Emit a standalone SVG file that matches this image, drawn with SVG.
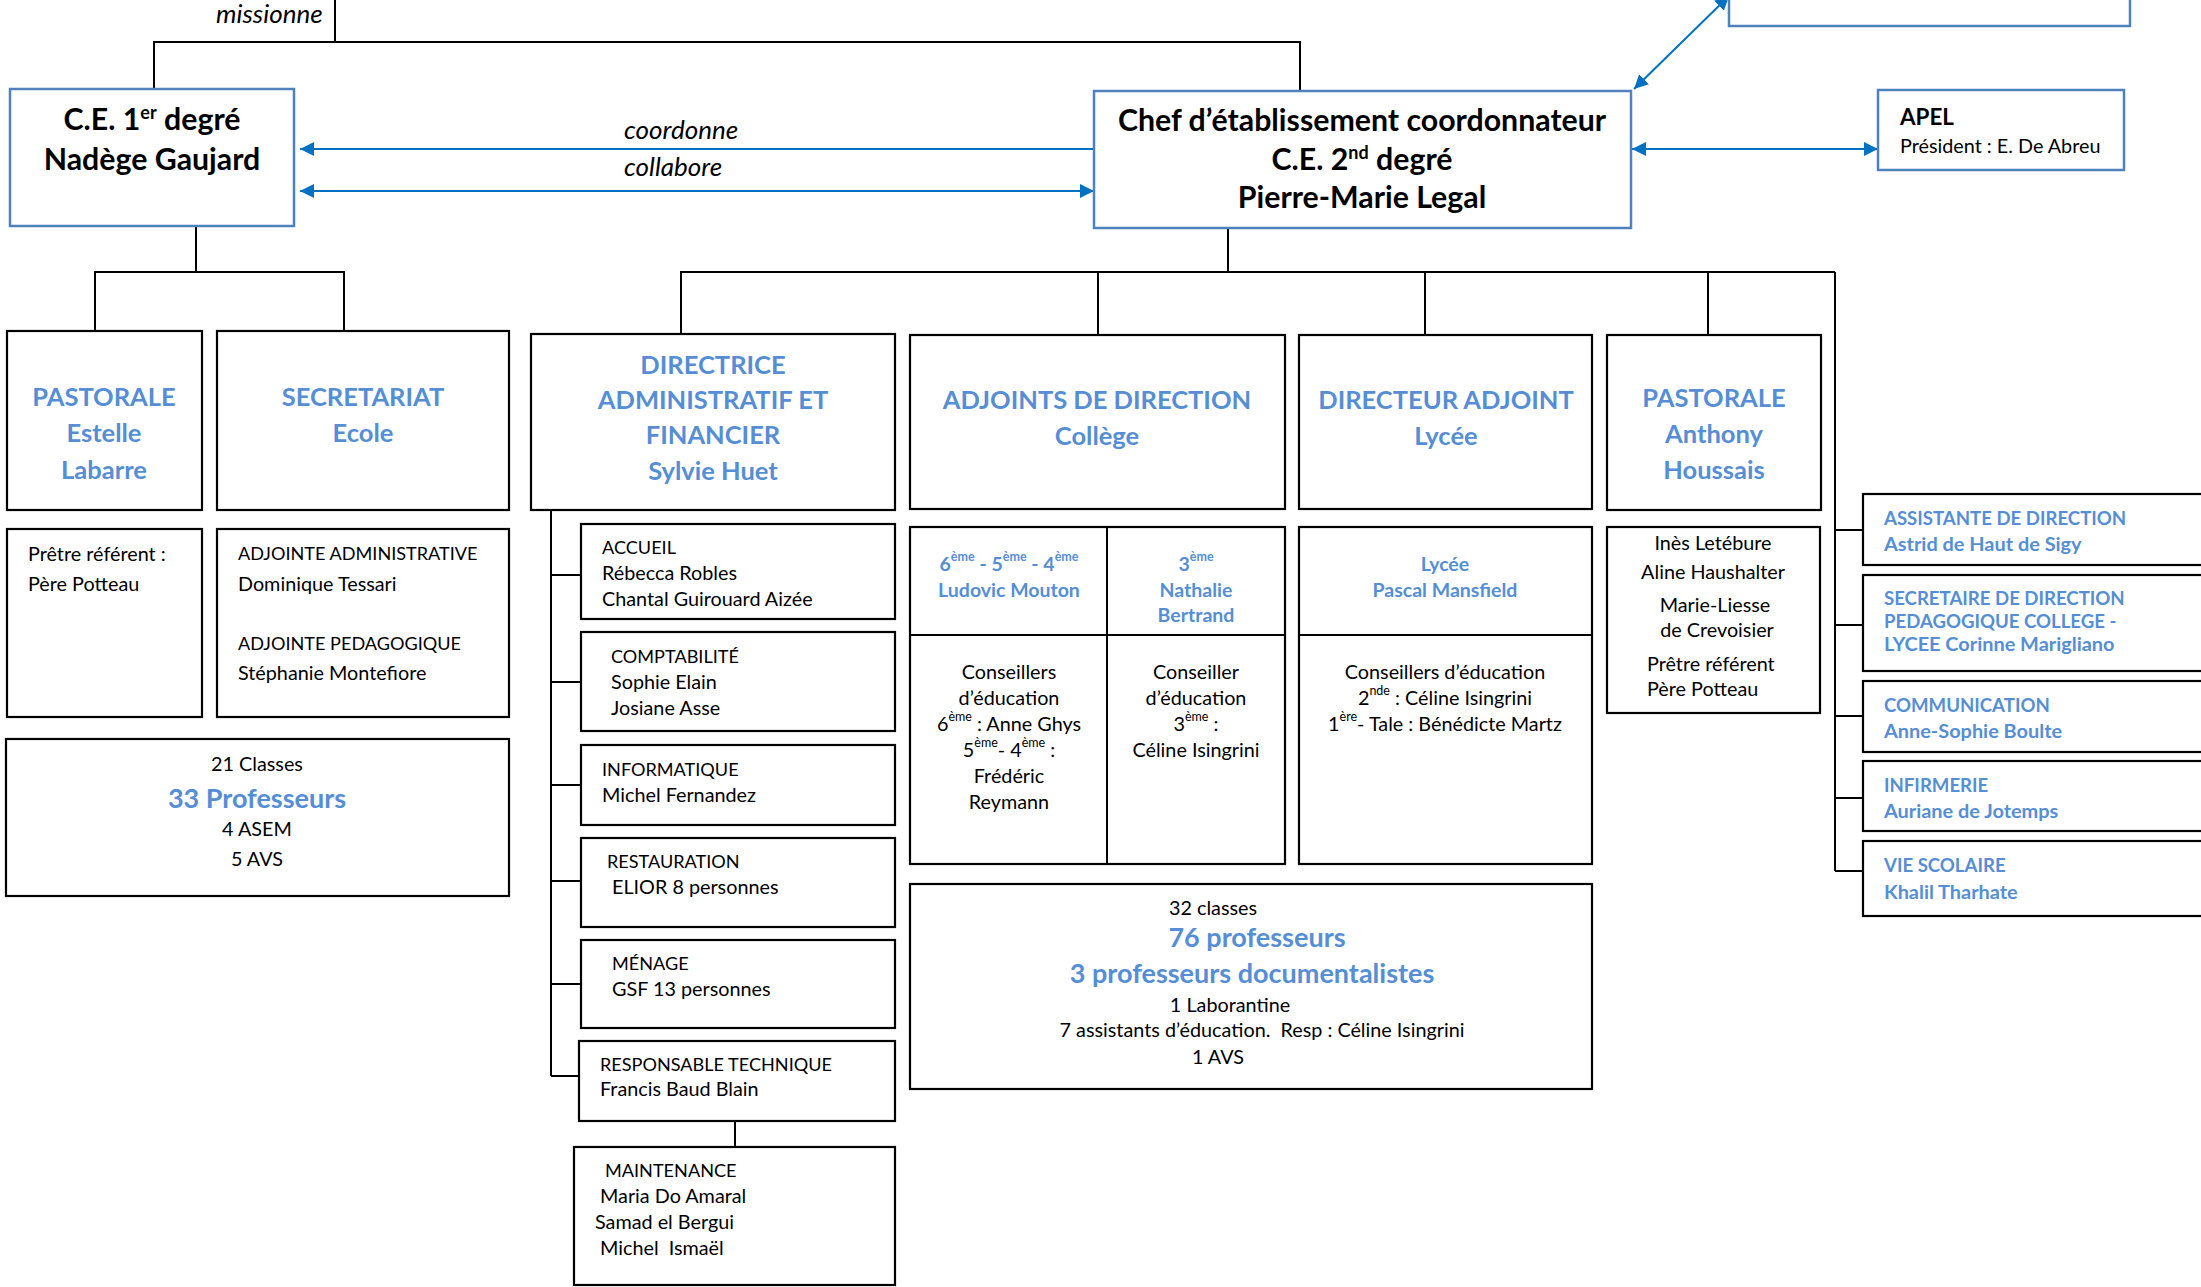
<svg xmlns="http://www.w3.org/2000/svg" width="2201" height="1287" viewBox="0 0 2201 1287">
<style>
text{font-family:Lato,"Liberation Sans",sans-serif;font-size:19.8px;fill:#000}
.m{text-anchor:middle}
.c{font-size:18.1px}
.top{font-weight:700;font-size:30.3px}
.h{font-weight:700;font-size:25.5px;fill:#558ed5}
.b{font-weight:700;font-size:19.5px;fill:#558ed5}
.big{font-weight:700;font-size:27px;fill:#558ed5}
.r{font-weight:700;font-size:18.6px;fill:#558ed5}
.r2{font-weight:700;font-size:19.9px;fill:#558ed5}
.it{font-style:italic;font-size:26px}
.apel{font-weight:700;font-size:22.4px}
.box{fill:#fff;stroke:#000;stroke-width:2.2}
.bbox{fill:#fff;stroke:#4f81bd;stroke-width:2.5}
.ln{stroke:#000;stroke-width:2;fill:none}
.ar{stroke:#0070c0;stroke-width:2;fill:none}
</style>
<defs>
<marker id="ah" viewBox="0 0 10 10" refX="10" refY="5" markerWidth="7" markerHeight="7.5" orient="auto-start-reverse" markerUnits="strokeWidth">
<path d="M0,0 L10,5 L0,10 z" fill="#0070c0"/>
</marker>
</defs>
<rect width="2201" height="1287" fill="#fff"/>

<g id="connectors">
<path class="ln" d="M335,0 V42 M154,90 V42 H1300 V92"/>
<path class="ln" d="M196,227 V272 M95,331 V272 H344 V331"/>
<path class="ln" d="M1228,228 V272 M681,334 V272 H1835 M1098,272 V335 M1425,272 V335 M1708,272 V335"/>
<path class="ln" d="M1835,272 V871 M1835,530 H1863 M1835,625 H1863 M1835,716 H1863 M1835,798 H1863 M1835,871 H1863"/>
<path class="ln" d="M551,510 V1076 M551,575 H581 M551,682 H581 M551,785 H581 M551,881 H581 M551,984 H581 M551,1076 H579 M735,1121 V1147"/>
<line class="ar" x1="1094" y1="149" x2="300" y2="149" marker-end="url(#ah)"/>
<line class="ar" x1="300" y1="191" x2="1094" y2="191" marker-start="url(#ah)" marker-end="url(#ah)"/>
<line class="ar" x1="1632" y1="149" x2="1878" y2="149" marker-start="url(#ah)" marker-end="url(#ah)"/>
<line class="ar" x1="1634" y1="89" x2="1729" y2="-4" marker-start="url(#ah)" marker-end="url(#ah)"/>
<text class="it" x="216" y="23">missionne</text>
<text class="it" x="624" y="139">coordonne</text>
<text class="it" x="624" y="176">collabore</text>
</g>

<g id="ce1">
<rect class="bbox" x="10" y="89" width="284" height="137"/>
<text class="top m" x="152" y="130">C.E. 1<tspan font-size="18" dy="-11">er</tspan><tspan dy="11"> degré</tspan></text>
<text class="top m" x="152" y="170">Nadège Gaujard</text>
</g>

<g id="chef">
<rect class="bbox" x="1094" y="91" width="537" height="137"/>
<text class="top m" x="1362" y="131">Chef d’établissement coordonnateur</text>
<text class="top m" x="1362" y="170">C.E. 2<tspan font-size="18" dy="-11">nd</tspan><tspan dy="11"> degré</tspan></text>
<text class="top m" x="1362" y="208">Pierre-Marie Legal</text>
</g>

<g id="topright">
<rect class="bbox" x="1729" y="-10" width="401" height="36"/>
</g>

<g id="apel">
<rect class="bbox" x="1878" y="90" width="246" height="80"/>
<text class="apel" x="1900" y="125">APEL</text>
<text x="1900" y="153" font-size="19">Président : E. De Abreu</text>
</g>

<g id="pastorale1">
<rect class="box" x="7" y="331" width="195" height="179"/>
<text class="h m" x="104" y="406">PASTORALE</text>
<text class="h m" x="104" y="442">Estelle</text>
<text class="h m" x="104" y="479">Labarre</text>
</g>

<g id="secretariat">
<rect class="box" x="217" y="331" width="292" height="179"/>
<text class="h m" x="363" y="406">SECRETARIAT</text>
<text class="h m" x="363" y="442">Ecole</text>
</g>

<g id="pretre1">
<rect class="box" x="7" y="529" width="195" height="188"/>
<text x="28" y="561">Prêtre référent :</text>
<text x="28" y="591">Père Potteau</text>
</g>

<g id="adjointes">
<rect class="box" x="217" y="529" width="292" height="188"/>
<text class="c" x="238" y="560">ADJOINTE ADMINISTRATIVE</text>
<text x="238" y="591">Dominique Tessari</text>
<text class="c" x="238" y="650">ADJOINTE PEDAGOGIQUE</text>
<text x="238" y="680">Stéphanie Montefiore</text>
</g>

<g id="classes1">
<rect class="box" x="6" y="739" width="503" height="157"/>
<text class="m" x="257" y="771">21 Classes</text>
<text class="big m" x="257" y="808">33 Professeurs</text>
<text class="m" x="257" y="836">4 ASEM</text>
<text class="m" x="257" y="866">5 AVS</text>
</g>

<g id="daf">
<rect class="box" x="531" y="334" width="364" height="176"/>
<text class="h m" x="713" y="374">DIRECTRICE</text>
<text class="h m" x="713" y="409">ADMINISTRATIF ET</text>
<text class="h m" x="713" y="444">FINANCIER</text>
<text class="h m" x="713" y="480">Sylvie Huet</text>
</g>

<g id="accueil">
<rect class="box" x="581" y="524" width="314" height="95"/>
<text class="c" x="602" y="554">ACCUEIL</text>
<text x="602" y="580">Rébecca Robles</text>
<text x="602" y="606">Chantal Guirouard Aizée</text>
</g>

<g id="comptabilite">
<rect class="box" x="581" y="632" width="314" height="99"/>
<text class="c" x="611" y="663">COMPTABILITÉ</text>
<text x="611" y="689">Sophie Elain</text>
<text x="611" y="715">Josiane Asse</text>
</g>

<g id="informatique">
<rect class="box" x="581" y="745" width="314" height="80"/>
<text class="c" x="602" y="776">INFORMATIQUE</text>
<text x="602" y="802">Michel Fernandez</text>
</g>

<g id="restauration">
<rect class="box" x="581" y="838" width="314" height="89"/>
<text class="c" x="607" y="868">RESTAURATION</text>
<text x="612" y="894">ELIOR 8 personnes</text>
</g>

<g id="menage">
<rect class="box" x="581" y="940" width="314" height="88"/>
<text class="c" x="612" y="970">MÉNAGE</text>
<text x="612" y="996">GSF 13 personnes</text>
</g>

<g id="resptech">
<rect class="box" x="579" y="1041" width="316" height="80"/>
<text class="c" x="600" y="1071">RESPONSABLE TECHNIQUE</text>
<text x="600" y="1096">Francis Baud Blain</text>
</g>

<g id="maintenance">
<rect class="box" x="574" y="1147" width="321" height="138"/>
<text class="c" x="605" y="1177">MAINTENANCE</text>
<text x="600" y="1203">Maria Do Amaral</text>
<text x="595" y="1229">Samad el Bergui</text>
<text x="600" y="1255" xml:space="preserve">Michel  Ismaël</text>
</g>

<g id="adjoints">
<rect class="box" x="910" y="335" width="375" height="174"/>
<text class="h m" x="1097" y="409">ADJOINTS DE DIRECTION</text>
<text class="h m" x="1097" y="445">Collège</text>
</g>

<g id="diradj">
<rect class="box" x="1299" y="335" width="293" height="174"/>
<text class="h m" x="1446" y="409">DIRECTEUR ADJOINT</text>
<text class="h m" x="1446" y="445">Lycée</text>
</g>

<g id="pastorale2">
<rect class="box" x="1607" y="335" width="214" height="175"/>
<text class="h m" x="1714" y="407">PASTORALE</text>
<text class="h m" x="1714" y="443">Anthony</text>
<text class="h m" x="1714" y="479">Houssais</text>
</g>

<g id="college">
<rect class="box" x="910" y="527" width="375" height="337"/>
<path class="ln" d="M1107,527 V864 M910,635 H1285" stroke-width="2.2"/>
<text class="b m" x="1009" y="571">6<tspan font-size="12.5" dy="-10">ème</tspan><tspan dy="10"> - 5</tspan><tspan font-size="12.5" dy="-10">ème</tspan><tspan dy="10"> - 4</tspan><tspan font-size="12.5" dy="-10">ème</tspan></text>
<text class="b m" x="1009" y="597">Ludovic Mouton</text>
<text class="b m" x="1196" y="571">3<tspan font-size="12.5" dy="-10">ème</tspan></text>
<text class="b m" x="1196" y="597">Nathalie</text>
<text class="b m" x="1196" y="622">Bertrand</text>
<text class="m" x="1009" y="679">Conseillers</text>
<text class="m" x="1009" y="705">d’éducation</text>
<text class="m" x="1009" y="731">6<tspan font-size="12.5" dy="-10">ème</tspan><tspan dy="10"> : Anne Ghys</tspan></text>
<text class="m" x="1009" y="757">5<tspan font-size="12.5" dy="-10">ème</tspan><tspan dy="10">- 4</tspan><tspan font-size="12.5" dy="-10">ème</tspan><tspan dy="10"> :</tspan></text>
<text class="m" x="1009" y="783">Frédéric</text>
<text class="m" x="1009" y="809">Reymann</text>
<text class="m" x="1196" y="679">Conseiller</text>
<text class="m" x="1196" y="705">d’éducation</text>
<text class="m" x="1196" y="731">3<tspan font-size="12.5" dy="-10">ème</tspan><tspan dy="10"> :</tspan></text>
<text class="m" x="1196" y="757">Céline Isingrini</text>
</g>

<g id="lycee">
<rect class="box" x="1299" y="527" width="293" height="337"/>
<path class="ln" d="M1299,635 H1592" stroke-width="2.2"/>
<text class="b m" x="1445" y="571">Lycée</text>
<text class="b m" x="1445" y="597">Pascal Mansfield</text>
<text class="m" x="1445" y="679">Conseillers d’éducation</text>
<text class="m" x="1445" y="705">2<tspan font-size="12.5" dy="-10">nde</tspan><tspan dy="10"> : Céline Isingrini</tspan></text>
<text class="m" x="1445" y="731">1<tspan font-size="12.5" dy="-10">ère</tspan><tspan dy="10">- Tale : Bénédicte Martz</tspan></text>
</g>

<g id="pastorale2names">
<rect class="box" x="1607" y="527" width="213" height="186"/>
<text class="m" x="1713" y="550">Inès Letébure</text>
<text class="m" x="1713" y="579">Aline Haushalter</text>
<text class="m" x="1715" y="612">Marie-Liesse</text>
<text class="m" x="1717" y="637">de Crevoisier</text>
<text x="1647" y="671">Prêtre référent</text>
<text x="1647" y="696">Père Potteau</text>
</g>

<g id="classes2">
<rect class="box" x="910" y="884" width="682" height="205"/>
<text class="m" x="1213" y="915">32 classes</text>
<text class="big m" x="1257" y="947">76 professeurs</text>
<text class="big m" x="1252" y="983">3 professeurs documentalistes</text>
<text class="m" x="1230" y="1012">1 Laborantine</text>
<text class="m" x="1262" y="1037" xml:space="preserve">7 assistants d’éducation.  Resp : Céline Isingrini</text>
<text class="m" x="1218" y="1064">1 AVS</text>
</g>

<g id="assistante">
<rect class="box" x="1863" y="494" width="360" height="71"/>
<text class="r" x="1884" y="525">ASSISTANTE DE DIRECTION</text>
<text class="r2" x="1884" y="551">Astrid de Haut de Sigy</text>
</g>

<g id="secretaire">
<rect class="box" x="1863" y="575" width="360" height="96"/>
<text class="r" x="1884" y="605">SECRETAIRE DE DIRECTION</text>
<text class="r" x="1884" y="628">PEDAGOGIQUE COLLEGE -</text>
<text class="r2" x="1884" y="651">LYCEE Corinne Marigliano</text>
</g>

<g id="communication">
<rect class="box" x="1863" y="681" width="360" height="71"/>
<text class="r" x="1884" y="712">COMMUNICATION</text>
<text class="r2" x="1884" y="738">Anne-Sophie Boulte</text>
</g>

<g id="infirmerie">
<rect class="box" x="1863" y="761" width="360" height="70"/>
<text class="r" x="1884" y="792">INFIRMERIE</text>
<text class="r2" x="1884" y="818">Auriane de Jotemps</text>
</g>

<g id="viescolaire">
<rect class="box" x="1863" y="841" width="360" height="75"/>
<text class="r" x="1884" y="872">VIE SCOLAIRE</text>
<text class="r2" x="1884" y="899">Khalil Tharhate</text>
</g>
</svg>
